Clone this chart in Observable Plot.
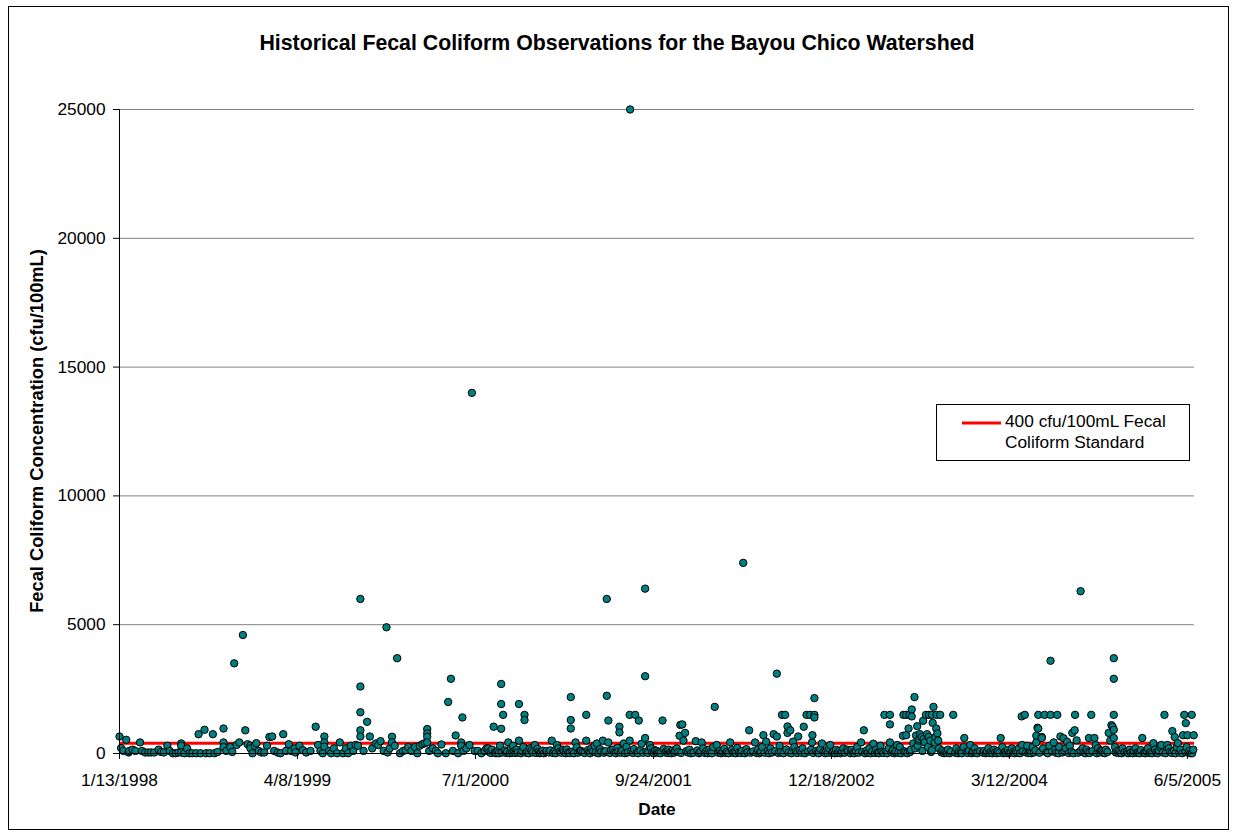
<!DOCTYPE html>
<html><head><meta charset="utf-8">
<script src="https://cdn.jsdelivr.net/npm/d3@7"></script>
<script src="https://cdn.jsdelivr.net/npm/@observablehq/plot@0.6"></script>
<style>
html,body{margin:0;padding:0;background:#fff;}
body{width:1238px;height:837px;position:relative;overflow:hidden;font-family:"Liberation Sans",Arial,sans-serif;}
#chart{position:absolute;left:0;top:0;}
#overlay{position:absolute;left:0;top:0;pointer-events:none;}
</style>
</head><body>
<div id="chart"></div>
<svg id="overlay" width="1238" height="837" font-family="Liberation Sans, Arial, sans-serif">
  <rect x="8.5" y="6.5" width="1220" height="823" fill="none" stroke="#000" stroke-width="1"/>
  <text id="title" x="617" y="49.5" text-anchor="middle" font-weight="bold" font-size="21.3px">Historical Fecal Coliform Observations for the Bayou Chico Watershed</text>
  <text id="ylabel" transform="translate(43,431) rotate(-90)" text-anchor="middle" font-weight="bold" font-size="18.3px">Fecal Coliform Concentration (cfu/100mL)</text>
  <text id="xlabel" x="657" y="815" text-anchor="middle" font-weight="bold" font-size="17.3px">Date</text>
  <g id="legend">
    <rect x="936.5" y="404.5" width="253" height="56" fill="#fff" stroke="#000" stroke-width="1"/>
    <line x1="962" x2="1001" y1="423" y2="423" stroke="#ff0000" stroke-width="3"/>
    <text x="1005" y="426.7" font-size="17.3px">400 cfu/100mL Fecal</text>
    <text x="1005" y="447.7" font-size="17.3px">Coliform Standard</text>
  </g>
</svg>
<script>
// ---------- data ----------
const standard = 400; // cfu/100mL fecal coliform standard
const yTicks = [0, 5000, 10000, 15000, 20000, 25000];
const dateTicks = ["1998-01-13","1999-04-08","2000-07-01","2001-09-24","2002-12-18","2004-03-12","2005-06-05"];
const dateDomain = ["1998-01-13","2005-06-23"];

const obs1998 = [
["1998-01-13",660],["1998-01-17",210],["1998-01-23",100],["1998-01-30",530],["1998-02-05",40],["1998-02-07",100],["1998-02-15",150],["1998-02-22",100],
["1998-03-06",430],["1998-03-11",100],["1998-03-19",40],["1998-03-27",40],["1998-04-03",40],["1998-04-11",40],["1998-04-22",150],["1998-04-28",60],
["1998-05-05",40],["1998-05-14",300],["1998-05-20",100],["1998-05-28",10],["1998-06-04",10],["1998-06-11",40],["1998-06-18",390],["1998-06-18",300],
["1998-06-18",40],["1998-06-26",10],["1998-07-03",200],["1998-07-09",10],["1998-07-16",10],["1998-07-26",10],["1998-08-01",750],["1998-08-06",10],
["1998-08-16",920],["1998-08-20",10],["1998-08-29",10],["1998-09-06",750],["1998-09-10",10],["1998-09-18",60],["1998-10-03",970],["1998-10-03",430],
["1998-10-03",250],["1998-10-10",100],["1998-10-20",250],["1998-10-25",60],["1998-10-30",3500],["1998-11-05",330],["1998-11-12",430],["1998-11-21",4600],
["1998-11-27",900],["1998-12-03",360],["1998-12-10",300],["1998-12-10",200],["1998-12-15",10],["1998-12-21",300],["1998-12-25",400],["1998-12-31",100]
];
const obs1999 = [
["1999-01-07",40],["1999-01-14",40],["1999-01-21",300],["1999-01-27",640],["1999-02-03",660],["1999-02-08",100],["1999-02-17",40],["1999-02-24",10],
["1999-03-03",750],["1999-03-10",100],["1999-03-17",360],["1999-03-23",100],["1999-04-01",200],["1999-04-03",40],["1999-04-13",300],["1999-04-22",130],
["1999-04-30",40],["1999-05-11",100],["1999-05-24",1040],["1999-05-30",330],["1999-06-05",100],["1999-06-11",10],["1999-06-15",660],["1999-06-15",430],
["1999-06-15",270],["1999-06-27",100],["1999-07-02",10],["1999-07-09",200],["1999-07-17",10],["1999-07-24",430],["1999-08-01",10],["1999-08-08",200],
["1999-08-14",10],["1999-08-21",300],["1999-08-27",100],["1999-09-02",330],["1999-09-08",300],["1999-09-14",6000],["1999-09-14",2600],["1999-09-14",1600],
["1999-09-14",900],["1999-09-14",660],["1999-09-22",100],["1999-10-01",1230],["1999-10-08",660],["1999-10-14",200],["1999-10-23",390],["1999-10-29",330],
["1999-11-04",480],["1999-11-12",100],["1999-11-19",4900],["1999-11-22",40],["1999-11-27",200],["1999-12-03",650],["1999-12-03",430],["1999-12-10",300],
["1999-12-16",3700],["1999-12-23",10],["1999-12-31",100]
];
const obs2000 = [
["2000-01-07",130],["2000-01-13",250],["2000-01-21",100],["2000-01-30",250],["2000-02-05",10],["2000-02-11",300],["2000-02-18",360],["2000-02-24",400],
["2000-03-01",950],["2000-03-01",780],["2000-03-01",650],["2000-03-01",430],["2000-03-06",100],["2000-03-15",200],["2000-03-23",100],["2000-03-28",10],
["2000-04-06",350],["2000-04-17",10],["2000-04-23",2000],["2000-04-30",2900],["2000-05-05",100],["2000-05-12",700],["2000-05-18",10],["2000-05-26",430],
["2000-05-26",300],["2000-05-29",1400],["2000-06-01",100],["2000-06-08",200],["2000-06-16",330],["2000-06-22",14000],["2000-06-29",100],["2000-07-07",100],
["2000-07-16",10],["2000-07-24",100],["2000-07-29",200],["2000-08-02",200],["2000-08-05",60],["2000-08-09",20],["2000-08-12",150],["2000-08-16",1040],
["2000-08-19",30],["2000-08-22",10],["2000-08-26",90],["2000-08-29",10],["2000-09-01",300],["2000-09-04",2700],["2000-09-04",1920],["2000-09-04",960],
["2000-09-06",40],["2000-09-09",1500],["2000-09-13",120],["2000-09-16",20],["2000-09-19",70],["2000-09-22",430],["2000-09-26",10],["2000-09-29",200],
["2000-10-02",30],["2000-10-04",300],["2000-10-07",80],["2000-10-10",20],["2000-10-13",150],["2000-10-16",40],["2000-10-19",1920],["2000-10-19",500],
["2000-10-24",10],["2000-10-27",90],["2000-10-30",250],["2000-11-02",1500],["2000-11-02",1300],["2000-11-06",30],["2000-11-09",70],["2000-11-13",10],
["2000-11-16",200],["2000-11-20",120],["2000-11-23",40],["2000-11-28",330],["2000-12-01",20],["2000-12-05",180],["2000-12-08",60],["2000-12-11",10],
["2000-12-14",30],["2000-12-18",110],["2000-12-21",10],["2000-12-27",50],["2000-12-28",100]
];
const obs2001 = [
["2001-01-03",40],["2001-01-06",120],["2001-01-10",500],["2001-01-13",20],["2001-01-17",80],["2001-01-20",10],["2001-01-23",330],["2001-01-27",200],
["2001-01-30",60],["2001-02-03",30],["2001-02-07",150],["2001-02-10",90],["2001-02-14",10],["2001-02-17",160],["2001-02-21",40],["2001-02-24",20],
["2001-02-27",2190],["2001-02-27",1300],["2001-02-27",970],["2001-03-03",70],["2001-03-07",10],["2001-03-11",430],["2001-03-14",240],["2001-03-18",30],
["2001-03-22",100],["2001-03-25",100],["2001-03-29",50],["2001-04-03",20],["2001-04-07",1500],["2001-04-07",500],["2001-04-11",130],["2001-04-14",40],
["2001-04-17",10],["2001-04-20",200],["2001-04-24",80],["2001-04-28",300],["2001-05-01",40],["2001-05-04",390],["2001-05-08",10],["2001-05-12",170],
["2001-05-15",60],["2001-05-19",500],["2001-05-22",30],["2001-05-26",90],["2001-05-29",6000],["2001-05-29",2240],["2001-06-02",1280],["2001-06-02",430],
["2001-06-06",20],["2001-06-09",140],["2001-06-14",150],["2001-06-18",50],["2001-06-21",10],["2001-06-25",220],["2001-06-27",70],["2001-06-30",1040],
["2001-06-30",820],["2001-07-03",30],["2001-07-07",110],["2001-07-11",390],["2001-07-14",10],["2001-07-18",260],["2001-07-21",40],["2001-07-26",1500],
["2001-07-26",500],["2001-07-27",25000],["2001-07-30",90],["2001-08-03",20],["2001-08-06",170],["2001-08-09",1500],["2001-08-13",50],["2001-08-16",10],
["2001-08-18",1280],["2001-08-22",120],["2001-08-25",380],["2001-08-29",30],["2001-09-03",6400],["2001-09-03",3000],["2001-09-03",600],["2001-09-07",80],
["2001-09-10",20],["2001-09-15",330],["2001-09-18",200],["2001-09-21",40],["2001-09-25",10],["2001-09-28",130],["2001-10-02",100],["2001-10-05",30],
["2001-10-09",60],["2001-10-12",10],["2001-10-17",1280],["2001-10-20",180],["2001-10-24",40],["2001-10-27",90],["2001-10-30",20],["2001-11-01",150],
["2001-11-05",50],["2001-11-08",10],["2001-11-12",120],["2001-11-15",30],["2001-11-18",100],["2001-11-22",200],["2001-11-26",60],["2001-11-29",690],
["2001-12-01",1110],["2001-12-03",20],["2001-12-06",1130],["2001-12-09",500],["2001-12-13",800],["2001-12-16",90],["2001-12-20",40],["2001-12-24",150],
["2001-12-28",10]
];
const obs2002 = [
["2002-01-03",30],["2002-01-09",480],["2002-01-13",120],["2002-01-17",10],["2002-01-21",60],["2002-01-24",430],["2002-01-28",200],["2002-02-01",20],
["2002-02-05",90],["2002-02-08",10],["2002-02-12",150],["2002-02-15",40],["2002-02-19",10],["2002-02-22",250],["2002-02-26",1810],["2002-03-03",330],
["2002-03-07",30],["2002-03-11",100],["2002-03-14",10],["2002-03-18",60],["2002-03-22",180],["2002-03-26",20],["2002-03-29",70],["2002-04-02",10],
["2002-04-06",430],["2002-04-10",140],["2002-04-13",30],["2002-04-17",60],["2002-04-20",10],["2002-04-24",220],["2002-04-28",40],["2002-05-02",20],
["2002-05-06",100],["2002-05-09",7400],["2002-05-13",10],["2002-05-17",170],["2002-05-20",50],["2002-05-24",900],["2002-05-28",30],["2002-06-03",80],
["2002-06-08",430],["2002-06-12",20],["2002-06-15",150],["2002-06-19",10],["2002-06-22",60],["2002-06-26",250],["2002-06-29",710],["2002-07-02",30],
["2002-07-06",460],["2002-07-10",110],["2002-07-13",10],["2002-07-17",200],["2002-07-21",40],["2002-07-25",750],["2002-07-29",90],["2002-08-02",3100],
["2002-08-02",660],["2002-08-06",20],["2002-08-09",300],["2002-08-12",50],["2002-08-15",1500],["2002-08-19",10],["2002-08-23",1500],["2002-08-26",160],
["2002-08-29",1050],["2002-08-29",800],["2002-09-01",40],["2002-09-05",900],["2002-09-08",10],["2002-09-12",460],["2002-09-15",250],["2002-09-19",80],
["2002-09-22",20],["2002-09-25",660],["2002-09-29",130],["2002-10-03",30],["2002-10-06",200],["2002-10-09",1040],["2002-10-12",10],["2002-10-16",1500],
["2002-10-20",70],["2002-10-25",1500],["2002-10-28",150],["2002-10-30",430],["2002-10-31",710],["2002-11-02",20],["2002-11-05",2150],["2002-11-05",1500],
["2002-11-05",1400],["2002-11-09",100],["2002-11-13",40],["2002-11-16",10],["2002-11-20",180],["2002-11-24",390],["2002-11-28",60],["2002-12-02",10],
["2002-12-05",90],["2002-12-09",30],["2002-12-12",200],["2002-12-15",330],["2002-12-19",20],["2002-12-23",70],["2002-12-27",10],["2002-12-30",140]
];
const obs2003 = [
["2003-01-03",20],["2003-01-07",100],["2003-01-10",10],["2003-01-14",60],["2003-01-17",200],["2003-01-21",30],["2003-01-26",150],["2003-01-29",80],
["2003-02-04",10],["2003-02-07",140],["2003-02-11",40],["2003-02-14",10],["2003-02-18",90],["2003-02-21",250],["2003-02-25",30],["2003-03-03",430],
["2003-03-06",60],["2003-03-10",900],["2003-03-13",10],["2003-03-17",120],["2003-03-20",30],["2003-03-24",200],["2003-03-27",10],["2003-03-31",80],
["2003-04-03",380],["2003-04-07",20],["2003-04-10",150],["2003-04-14",40],["2003-04-17",10],["2003-04-21",300],["2003-04-24",60],["2003-04-28",20],
["2003-05-01",1500],["2003-05-05",80],["2003-05-08",10],["2003-05-12",200],["2003-05-15",1500],["2003-05-15",1130],["2003-05-15",430],["2003-05-19",40],
["2003-05-22",120],["2003-05-26",10],["2003-05-29",60],["2003-06-02",330],["2003-06-05",30],["2003-06-09",250],["2003-06-12",10],["2003-06-17",690],
["2003-06-18",1500],["2003-06-20",90],["2003-06-23",40],["2003-06-25",1500],["2003-06-25",710],["2003-06-28",10],["2003-07-01",970],["2003-07-03",1500],
["2003-07-05",60],["2003-07-07",150],["2003-07-09",1710],["2003-07-09",1440],["2003-07-13",390],["2003-07-16",2190],["2003-07-18",200],["2003-07-20",700],
["2003-07-23",1060],["2003-07-24",300],["2003-07-26",500],["2003-07-28",560],["2003-07-30",750],["2003-08-03",640],["2003-08-05",100],["2003-08-07",1270],
["2003-08-08",560],["2003-08-11",430],["2003-08-14",1500],["2003-08-17",750],["2003-08-19",250],["2003-08-21",640],["2003-08-22",1500],["2003-08-25",500],
["2003-08-27",60],["2003-08-29",1500],["2003-08-29",130],["2003-08-31",1190],["2003-09-02",1810],["2003-09-05",430],["2003-09-07",640],["2003-09-09",970],
["2003-09-10",1500],["2003-09-12",780],["2003-09-14",500],["2003-09-16",200],["2003-09-19",1500],["2003-09-22",40],["2003-09-25",110],["2003-09-29",10],
["2003-10-02",60],["2003-10-06",20],["2003-10-09",150],["2003-10-13",10],["2003-10-16",80],["2003-10-22",1500],["2003-10-27",30],["2003-10-30",200],
["2003-11-03",10],["2003-11-06",90],["2003-11-10",40],["2003-11-13",10],["2003-11-17",250],["2003-11-19",600],["2003-11-24",60],["2003-11-27",20],
["2003-12-01",110],["2003-12-04",330],["2003-12-08",10],["2003-12-11",60],["2003-12-15",200],["2003-12-18",30],["2003-12-22",10],["2003-12-29",90]
];
const obs2004 = [
["2004-01-05",30],["2004-01-08",100],["2004-01-12",10],["2004-01-15",60],["2004-01-19",200],["2004-01-22",20],["2004-01-26",80],["2004-01-29",10],
["2004-02-02",150],["2004-02-05",40],["2004-02-09",10],["2004-02-12",90],["2004-02-16",30],["2004-02-19",600],["2004-02-23",250],["2004-02-26",10],
["2004-03-01",60],["2004-03-04",20],["2004-03-08",130],["2004-03-11",10],["2004-03-15",40],["2004-03-18",200],["2004-03-22",60],["2004-03-25",10],
["2004-03-29",100],["2004-04-01",30],["2004-04-05",200],["2004-04-08",10],["2004-04-12",1440],["2004-04-13",330],["2004-04-15",80],["2004-04-20",1500],
["2004-04-23",40],["2004-04-26",300],["2004-04-29",20],["2004-05-03",60],["2004-05-06",10],["2004-05-10",250],["2004-05-13",40],["2004-05-17",120],
["2004-05-19",690],["2004-05-19",430],["2004-05-22",1000],["2004-05-24",1500],["2004-05-24",970],["2004-05-27",30],["2004-06-02",640],["2004-06-02",600],
["2004-06-05",200],["2004-06-09",1500],["2004-06-14",40],["2004-06-17",10],["2004-06-21",300],["2004-06-24",1500],["2004-06-24",3600],["2004-06-28",80],
["2004-07-02",430],["2004-07-06",150],["2004-07-08",30],["2004-07-11",1500],["2004-07-14",10],["2004-07-16",250],["2004-07-19",660],["2004-07-24",40],
["2004-07-27",590],["2004-07-29",100],["2004-08-02",200],["2004-08-05",450],["2004-08-09",20],["2004-08-12",300],["2004-08-16",60],["2004-08-18",800],
["2004-08-21",10],["2004-08-24",900],["2004-08-25",1500],["2004-08-29",510],["2004-09-02",30],["2004-09-08",6300],["2004-09-08",100],["2004-09-13",200],
["2004-09-16",40],["2004-09-20",10],["2004-09-23",150],["2004-09-27",60],["2004-09-29",600],["2004-10-01",20],["2004-10-05",1500],["2004-10-08",90],
["2004-10-13",600],["2004-10-16",330],["2004-10-19",10],["2004-10-22",200],["2004-10-26",40],["2004-10-29",120],["2004-11-01",100],["2004-11-04",30],
["2004-11-08",10],["2004-11-11",150],["2004-11-15",60],["2004-11-18",800],["2004-11-22",500],["2004-11-25",1100],["2004-11-28",1040],["2004-12-01",3700],
["2004-12-01",2900],["2004-12-01",1500],["2004-12-01",920],["2004-12-01",600],["2004-12-04",250],["2004-12-06",40],["2004-12-10",100],["2004-12-13",20],
["2004-12-16",80],["2004-12-20",10],["2004-12-23",200],["2004-12-28",50]
];
const obs2005 = [
["2005-01-03",60],["2005-01-06",10],["2005-01-10",150],["2005-01-13",30],["2005-01-18",10],["2005-01-21",90],["2005-01-25",200],["2005-01-28",20],
["2005-02-01",50],["2005-02-04",10],["2005-02-08",130],["2005-02-11",600],["2005-02-15",30],["2005-02-18",10],["2005-02-22",80],["2005-02-25",200],
["2005-03-01",20],["2005-03-04",60],["2005-03-08",10],["2005-03-11",400],["2005-03-15",150],["2005-03-18",40],["2005-03-22",10],["2005-03-25",100],
["2005-03-29",250],["2005-03-31",330],["2005-04-04",40],["2005-04-08",1500],["2005-04-11",10],["2005-04-15",330],["2005-04-19",200],["2005-04-22",60],
["2005-04-26",20],["2005-04-28",870],["2005-05-02",100],["2005-05-04",640],["2005-05-06",10],["2005-05-09",250],["2005-05-12",400],["2005-05-16",40],
["2005-05-19",150],["2005-05-23",10],["2005-05-25",710],["2005-05-28",1500],["2005-05-31",60],["2005-06-01",1180],["2005-06-03",250],["2005-06-05",710],
["2005-06-08",30],["2005-06-10",100],["2005-06-13",10],["2005-06-16",1500],["2005-06-17",10],["2005-06-20",150],["2005-06-21",710]
];

// ---------- build table ----------
const observations = [...obs1998, ...obs1999, ...obs2000, ...obs2001, ...obs2002, ...obs2003, ...obs2004, ...obs2005]
  .map(([d, v]) => ({date: new Date(d), value: v}));
const fmt = d3.utcFormat("%-m/%-d/%Y");
const xTicks = dateTicks.map(d => new Date(d));
const x0 = new Date(dateDomain[0]);

const chart = Plot.plot({
  width: 1238,
  height: 837,
  marginLeft: 119,
  marginRight: 44,
  marginTop: 109,
  marginBottom: 84,
  style: {background: "none", fontFamily: "'Liberation Sans', Arial, sans-serif", fontSize: "17.3px", color: "#000", overflow: "visible"},
  x: {type: "utc", domain: dateDomain.map(d => new Date(d))},
  y: {domain: [0, 25000]},
  marks: [
    Plot.gridY(yTicks.filter(d => d > 0), {stroke: "#808080", strokeOpacity: 1, strokeWidth: 1}),
    Plot.ruleY([standard], {stroke: "#ff0000", strokeWidth: 3}),
    Plot.dot(observations, {x: "date", y: "value", r: 3.7, fill: "#008080", stroke: "#000", strokeWidth: 1}),
    Plot.ruleX([x0], {stroke: "#000", strokeWidth: 1}),
    Plot.ruleY([0], {stroke: "#000", strokeWidth: 1}),
    Plot.axisY({ticks: yTicks, tickFormat: d => String(d), tickSize: 6, tickPadding: 8, label: null, fill: "#000", stroke: "#000"}),
    Plot.axisX({ticks: xTicks, tickFormat: fmt, tickSize: 6, tickPadding: 14, label: null, fill: "#000", stroke: "#000"})
  ]
});
document.getElementById("chart").appendChild(chart);
</script>
</body></html>
